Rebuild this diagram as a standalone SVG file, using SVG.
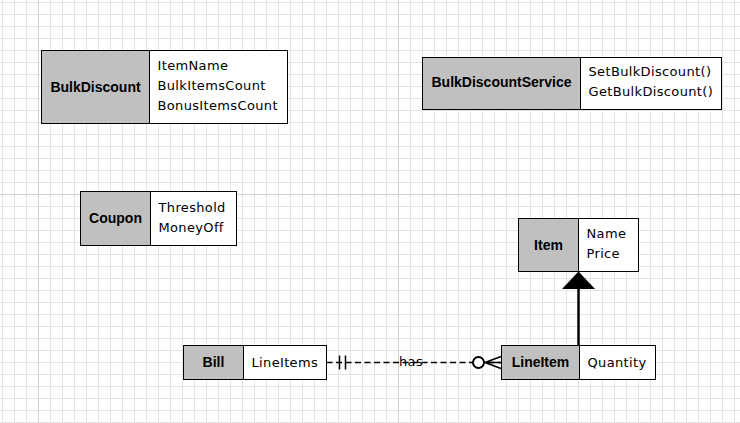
<svg xmlns="http://www.w3.org/2000/svg" width="740" height="423" viewBox="0 0 740 423">
<style>
.box{fill:#fff;stroke:#000;stroke-width:1}
.hd{fill:#c0c0c0;stroke:#000;stroke-width:1}
.nm{font-family:"Liberation Sans",Arial,sans-serif;font-weight:bold;font-size:14px;fill:#000;text-anchor:middle}
.fd{font-family:"DejaVu Sans",Verdana,sans-serif;font-size:13px;letter-spacing:0.35px;fill:#000}
.rel{fill:none;stroke:#000;stroke-width:1.5}
</style>
<defs>
<pattern id="grid" width="12" height="12" patternUnits="userSpaceOnUse" x="2" y="2">
<path d="M0 0.5H12M0.5 0V12" fill="none" stroke="#e4e4e4" stroke-width="1"/>
</pattern>
</defs>
<rect width="740" height="423" fill="#fff"/>
<rect width="740" height="423" fill="url(#grid)"/>
<path d="M38.5 0V423M398.5 0V423M0 194.5H740" stroke="#d2d2d2" stroke-width="1" fill="none"/>

<g id="connectors">
<g id="bill-lineitem">
<line class="rel" x1="326.5" y1="362.5" x2="501" y2="362.5" stroke-dasharray="6 3.5"/>
<path class="rel" d="M339.5 355.5V369.5M345.5 355.5V369.5" stroke-width="2"/>
<circle cx="478.5" cy="362.5" r="5.5" fill="#fff" stroke="#000" stroke-width="2"/>
<path class="rel" d="M485 362.5L501 356.5M485 362.5H501M485 362.5L501 368.5" stroke-width="2"/>
<text class="fd" x="411" y="366" text-anchor="middle">has</text>
</g>
<g id="lineitem-item">
<line x1="578.5" y1="345.5" x2="578.5" y2="288" stroke="#000" stroke-width="2.5"/>
<polygon points="578.5,271.5 562,289 595,289" fill="#000"/>
</g>
</g>

<g id="BulkDiscount">
<rect class="box" x="41.5" y="50.5" width="246" height="73"/>
<rect class="hd" x="41.5" y="50.5" width="108" height="73"/>
<text class="nm" x="95.5" y="92">BulkDiscount</text>
<text class="fd" x="157.5" y="69.5">ItemName</text>
<text class="fd" x="157.5" y="89.5">BulkItemsCount</text>
<text class="fd" x="157.5" y="109.5">BonusItemsCount</text>
</g>

<g id="BulkDiscountService">
<rect class="box" x="422.5" y="57.5" width="299" height="52"/>
<rect class="hd" x="422.5" y="57.5" width="158" height="52"/>
<text class="nm" x="501.5" y="87">BulkDiscountService</text>
<text class="fd" x="588.5" y="76" letter-spacing="0.1">SetBulkDiscount()</text>
<text class="fd" x="588.5" y="96" letter-spacing="0.1">GetBulkDiscount()</text>
</g>

<g id="Coupon">
<rect class="box" x="80.5" y="191.5" width="156" height="54"/>
<rect class="hd" x="80.5" y="191.5" width="70" height="54"/>
<text class="nm" x="115.5" y="222.5">Coupon</text>
<text class="fd" x="158.5" y="212">Threshold</text>
<text class="fd" x="158.5" y="232">MoneyOff</text>
</g>

<g id="Item">
<rect class="box" x="518.5" y="218.5" width="120" height="53"/>
<rect class="hd" x="518.5" y="218.5" width="60" height="53"/>
<text class="nm" x="548.5" y="249.5">Item</text>
<text class="fd" x="586.5" y="238">Name</text>
<text class="fd" x="586.5" y="258">Price</text>
</g>

<g id="LineItem">
<rect class="box" x="501.5" y="345.5" width="154" height="34"/>
<rect class="hd" x="501.5" y="345.5" width="78" height="34"/>
<text class="nm" x="540.5" y="367">LineItem</text>
<text class="fd" x="587.5" y="367">Quantity</text>
</g>

<g id="Bill">
<rect class="box" x="183.5" y="345.5" width="143" height="34"/>
<rect class="hd" x="183.5" y="345.5" width="60" height="34"/>
<text class="nm" x="213.5" y="367">Bill</text>
<text class="fd" x="251.5" y="367">LineItems</text>
</g>
</svg>
